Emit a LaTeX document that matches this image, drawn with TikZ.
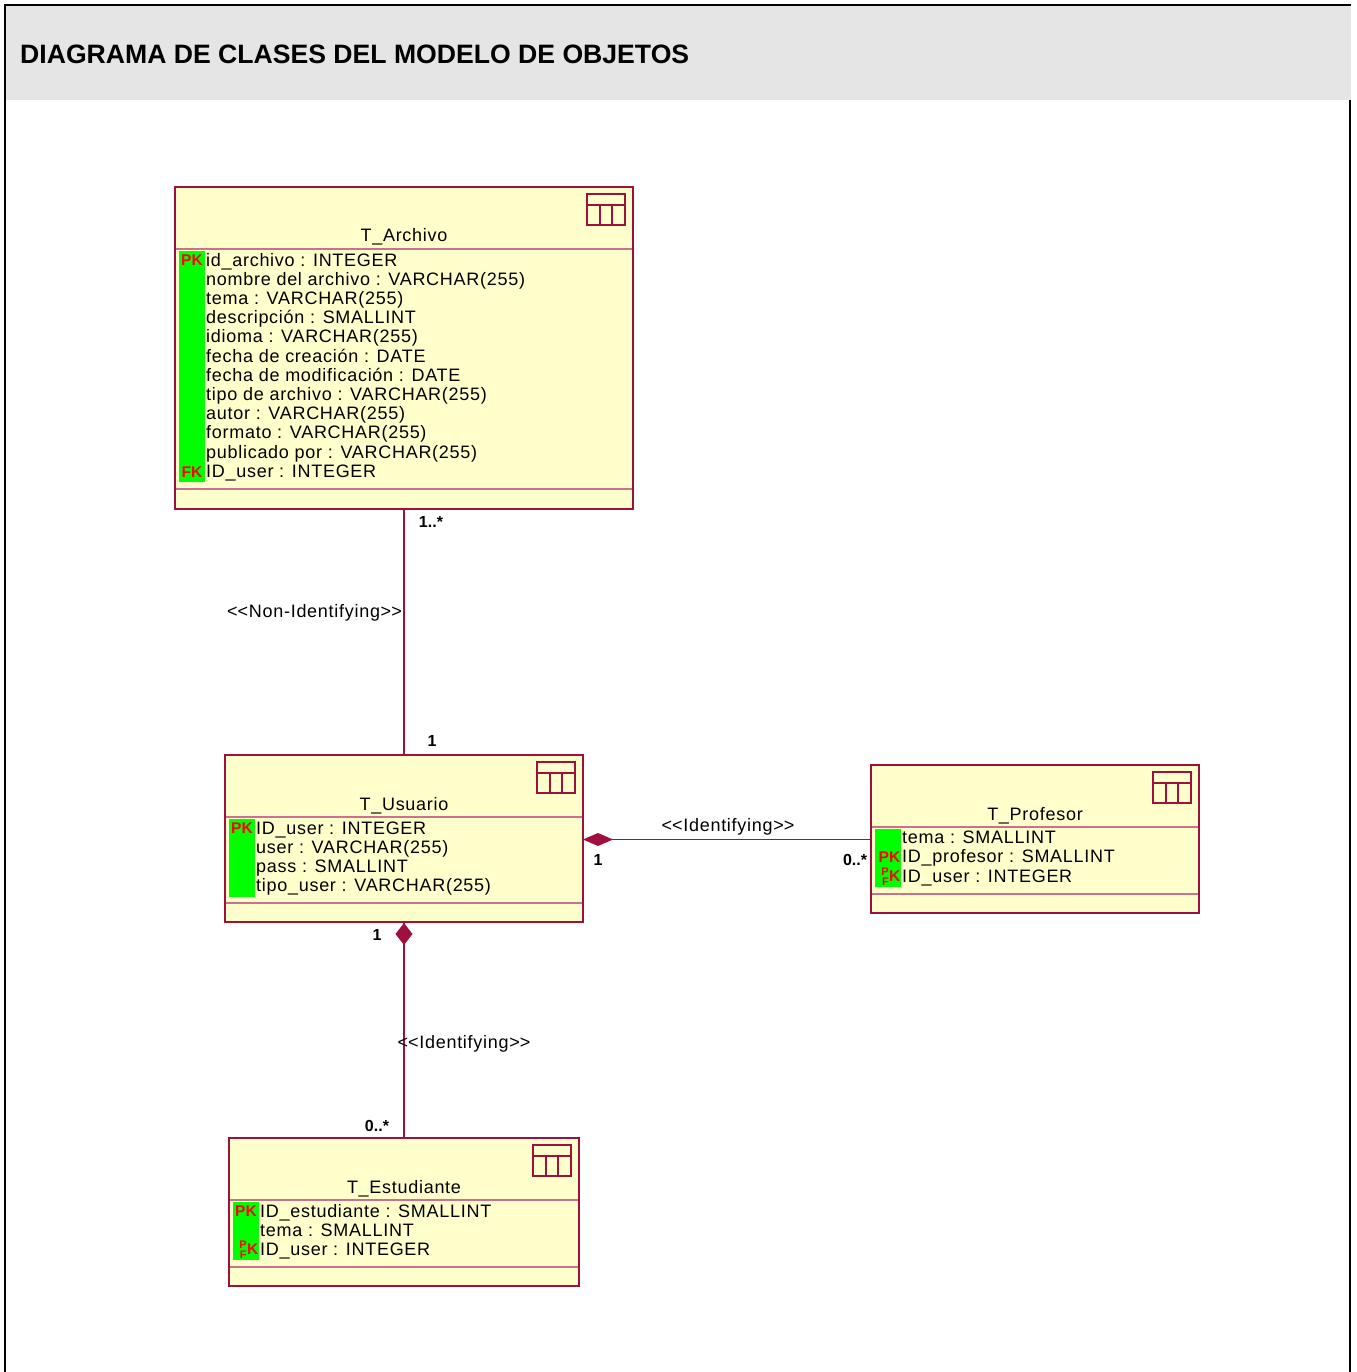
\documentclass[tikz,border=0pt]{standalone}
\usepackage{fontspec}
\setmainfont{Liberation Sans}
\newfontfamily\rosefont{Liberation Sans}[LetterSpace=4]
\definecolor{roseyellow}{HTML}{FFFFCC}
\definecolor{rosedark}{HTML}{A0103F}
\definecolor{roselight}{HTML}{CC7090}
\definecolor{keygreen}{HTML}{00FF00}
\definecolor{keyred}{HTML}{FF0000}
\definecolor{hdrgray}{HTML}{E5E5E5}
\newcommand\roseicon[2]{%
  \draw[iconline] (#1,#2) rectangle ++(38,31);
  \draw[iconline] (#1,#2+11) -- ++(38,0);
  \draw[iconline] (#1+13,#2+11) -- ++(0,20);
  \draw[iconline] (#1+25,#2+11) -- ++(0,20);}
\begin{document}
\begin{tikzpicture}[x=1pt,y=-1pt,
  frameline/.style={draw=black,line width=2pt},
  tablebox/.style={rectangle,draw=rosedark,fill=roseyellow,line width=1.5pt,inner sep=0pt,outer sep=0pt},
  sepline/.style={draw=roselight,line width=1.5pt},
  iconline/.style={draw=rosedark,line width=1.3pt},
  attr/.style={anchor=base west,inner sep=0pt,font=\rosefont\fontsize{18}{19}\selectfont},
  tname/.style={anchor=base,inner sep=0pt,font=\rosefont\fontsize{18}{19}\selectfont},
  stereo/.style={inner sep=0pt,font=\rosefont\fontsize{18}{19}\selectfont},
  mult/.style={inner sep=0pt,font=\bfseries\fontsize{16}{16}\selectfont},
  keylbl/.style={inner sep=0pt,text=keyred,font=\bfseries\fontsize{15.5}{15.5}\selectfont},
  keysmall/.style={inner sep=0pt,text=keyred,font=\bfseries\fontsize{11}{11}\selectfont},
  conn/.style={draw=rosedark,line width=1.3pt},
  diam/.style={fill=rosedark}]
\useasboundingbox (0,0) rectangle (1356,1372);
% frame
\fill[hdrgray] (5,6) rectangle (1351,100);
\draw[frameline] (4,5) -- (1351,5);
\draw[frameline] (5,5) -- (5,1372);
\draw[frameline] (1350,100) -- (1350,1372);
\node[anchor=base west,inner sep=0pt,font=\bfseries\fontsize{26.6}{26.6}\selectfont] (title) at (20,63.5) {DIAGRAMA DE CLASES DEL MODELO DE OBJETOS};

% T_Archivo
\node[tablebox,minimum width=458pt,minimum height=322pt] (archivo) at (404,348) {};
\draw[sepline] (176,249) -- (632,249);
\draw[sepline] (176,489) -- (632,489);
\fill[keygreen] (179,251) rectangle (205,482);
\roseicon{587}{194}
\node[tname] (archivoname) at (404,242) {T\_Archivo};
\foreach \t [count=\i from 0] in {id\_archivo : INTEGER,nombre del archivo : VARCHAR(255),tema : VARCHAR(255),descripción : SMALLINT,idioma : VARCHAR(255),fecha de creación : DATE,fecha de modificación : DATE,tipo de archivo : VARCHAR(255),autor : VARCHAR(255),formato : VARCHAR(255),publicado por : VARCHAR(255),ID\_user : INTEGER}
  \node[attr] (archivo-a\i) at (206,266+19.2*\i) {\t};
\node[keylbl] (archivo-pk) at (192,260.5) {PK};
\node[keylbl] (archivo-fk) at (192,472) {FK};

% T_Usuario
\node[tablebox,minimum width=358pt,minimum height=167pt] (usuario) at (404,838.5) {};
\draw[sepline] (226,817) -- (582,817);
\draw[sepline] (226,903) -- (582,903);
\fill[keygreen] (229,819) rectangle (255,897);
\roseicon{537}{762}
\node[tname] (usuarioname) at (404,810) {T\_Usuario};
\foreach \t [count=\i from 0] in {ID\_user : INTEGER,user : VARCHAR(255),pass : SMALLINT,tipo\_user : VARCHAR(255)}
  \node[attr] (usuario-a\i) at (256,834+19*\i) {\t};
\node[keylbl] (usuario-pk) at (242,828.5) {PK};

% T_Profesor
\node[tablebox,minimum width=328pt,minimum height=148pt] (profesor) at (1035,839) {};
\draw[sepline] (872,827) -- (1198,827);
\draw[sepline] (872,894) -- (1198,894);
\fill[keygreen] (875,829) rectangle (901,887);
\roseicon{1153}{772}
\node[tname] (profesorname) at (1035,820) {T\_Profesor};
\foreach \t [count=\i from 0] in {tema : SMALLINT,ID\_profesor : SMALLINT,ID\_user : INTEGER}
  \node[attr] (profesor-a\i) at (902,843+19.5*\i) {\t};
\node[keylbl] (profesor-pk) at (889.5,857.5) {PK};
\node[keylbl,anchor=east] (profesor-k) at (900.5,876.5) {K};
\node[keysmall,anchor=east] (profesor-p) at (profesor-k.west |- 0,871.5) {P};
\node[keysmall,anchor=east] (profesor-f) at (profesor-k.west |- 0,881.5) {F};

% T_Estudiante
\node[tablebox,minimum width=350pt,minimum height=148pt] (estudiante) at (404,1212) {};
\draw[sepline] (230,1200) -- (578,1200);
\draw[sepline] (230,1267) -- (578,1267);
\fill[keygreen] (233,1202) rectangle (259,1260);
\roseicon{533}{1145}
\node[tname] (estudiantename) at (404,1193) {T\_Estudiante};
\foreach \t [count=\i from 0] in {ID\_estudiante : SMALLINT,tema : SMALLINT,ID\_user : INTEGER}
  \node[attr] (estudiante-a\i) at (260,1217+19*\i) {\t};
\node[keylbl] (estudiante-pk) at (246,1211.5) {PK};
\node[keylbl,anchor=east] (estudiante-k) at (258.5,1249.5) {K};
\node[keysmall,anchor=east] (estudiante-p) at (estudiante-k.west |- 0,1244.5) {P};
\node[keysmall,anchor=east] (estudiante-f) at (estudiante-k.west |- 0,1254.5) {F};

% connectors
\draw[conn] (archivo.south) -- (usuario.north);
\node[mult] (m1) at (431,522) {1..*};
\node[mult] (m2) at (432,741) {1};
\node[stereo,anchor=east] (s1) at (402,613) {<\kern0pt<Non-Identifying>\kern0pt>};

\coordinate (ue) at ([yshift=-1pt]usuario.east);
\draw[conn] (ue) -- (ue -| profesor.west);
\fill[diam] (ue) -- ++(15,-6.5) -- ++(15,6.5) -- ++(-15,6.5) -- cycle;
\node[stereo] (s2) at (728,827) {<\kern0pt<Identifying>\kern0pt>};
\node[mult] (m3) at (598,860) {1};
\node[mult] (m4) at (855,860) {0..*};

\draw[conn] (usuario.south) -- (estudiante.north);
\fill[diam] (usuario.south) ++(0,1) -- ++(8.5,11) -- ++(-8.5,11) -- ++(-8.5,-11) -- cycle;
\node[mult] (m5) at (377,935) {1};
\node[stereo] (s3) at (464,1044) {<\kern0pt<Identifying>\kern0pt>};
\node[mult] (m6) at (377,1126) {0..*};
\end{tikzpicture}
\end{document}
